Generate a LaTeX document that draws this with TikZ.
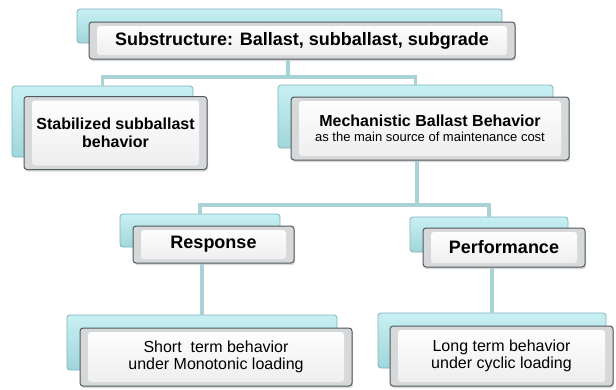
\documentclass[tikz,border=0pt]{standalone}
\usepackage{fontspec}
\setmainfont{Liberation Sans}
\usetikzlibrary{shadows}
\definecolor{linkc}{RGB}{168,210,214}
\definecolor{backfill}{RGB}{200,240,243}
\definecolor{backfill2}{RGB}{160,214,219}
\definecolor{backdraw}{RGB}{125,180,186}
\definecolor{frontdraw}{RGB}{80,90,95}
\definecolor{bevel}{RGB}{214,216,218}
\tikzset{
  backbox/.style={draw=backdraw, line width=0.8pt, rounded corners=3pt,
    top color=backfill, bottom color=backfill2, inner sep=0pt},
  frontbox/.style={draw=frontdraw, line width=1pt, rounded corners=3pt,
    fill=bevel, inner sep=0pt, align=center,
    drop shadow={shadow xshift=1pt, shadow yshift=-2pt, opacity=0.3},
    path picture={\shade[top color=white, bottom color=white!93!black]
      ([shift={(8pt,-4pt)}]path picture bounding box.north west) rectangle
      ([shift={(-8pt,4pt)}]path picture bounding box.south east);}},
  link/.style={draw=linkc, line width=3.5pt},
  bigbold/.style={font=\bfseries\fontsize{18}{21}\selectfont},
  midbold/.style={font=\bfseries\fontsize{16}{18}\selectfont},
  plain/.style={font=\fontsize{16}{17.5}\selectfont},
}
\begin{document}
\begin{tikzpicture}[x=1pt, y=-1pt]
\useasboundingbox (0,0) rectangle (616,389);
% top
\node[backbox, minimum width=425pt, minimum height=34pt] (topB) at (289.5,26) {};
\node[frontbox, bigbold, minimum width=426pt, minimum height=37pt] (topF) at (302,40.5)
  {Substructure: Ballast, subballast, subgrade};
% level 2
\node[backbox, minimum width=181pt, minimum height=71pt] (stabB) at (102.5,121.5) {};
\node[frontbox, midbold, minimum width=183pt, minimum height=73pt] (stabF) at (115.5,133)
  {Stabilized subballast\\behavior};
\node[backbox, minimum width=275pt, minimum height=63pt] (mechB) at (415.5,116.5) {};
\node[frontbox, minimum width=278pt, minimum height=63pt] (mechF) at (430,128.5)
  {\bfseries\fontsize{16}{18}\selectfont Mechanistic Ballast Behavior\\[3pt]
   \mdseries\fontsize{13}{15}\selectfont as the main source of maintenance cost};
% level 3
\node[backbox, minimum width=160pt, minimum height=33pt] (respB) at (200,230.5) {};
\node[frontbox, bigbold, minimum width=161pt, minimum height=37pt] (respF) at (213.5,244.5)
  {Response};
\node[backbox, minimum width=158pt, minimum height=35pt] (perfB) at (489,234.5) {};
\node[frontbox, bigbold, minimum width=162pt, minimum height=39pt] (perfF) at (504,247.5)
  {Performance};
% level 4
\node[backbox, minimum width=270pt, minimum height=55pt] (shortB) at (202,342.5) {};
\node[frontbox, plain, minimum width=272pt, minimum height=58pt] (shortF) at (216,357)
  {Short~ term behavior\\under Monotonic loading};
\node[backbox, minimum width=228pt, minimum height=55pt] (longB) at (492,340.5) {};
\node[frontbox, plain, minimum width=223pt, minimum height=60pt] (longF) at (501.5,356)
  {Long term behavior\\under cyclic loading};
% connectors
\coordinate (bus1) at (288,77);
\coordinate (bus2) at (417,205);
\draw[link] (topF.south -| bus1) -- (bus1);
\draw[link] (stabB.north) |- (bus1) -| (mechB.north);
\draw[link] (mechF.south -| bus2) -- (bus2);
\draw[link] (respB.north) |- (bus2) -| (perfB.north);
\draw[link] (respF.south -| shortB.north) -- (shortB.north);
\draw[link] (perfF.south -| longB.north) -- (longB.north);
\end{tikzpicture}
\end{document}
